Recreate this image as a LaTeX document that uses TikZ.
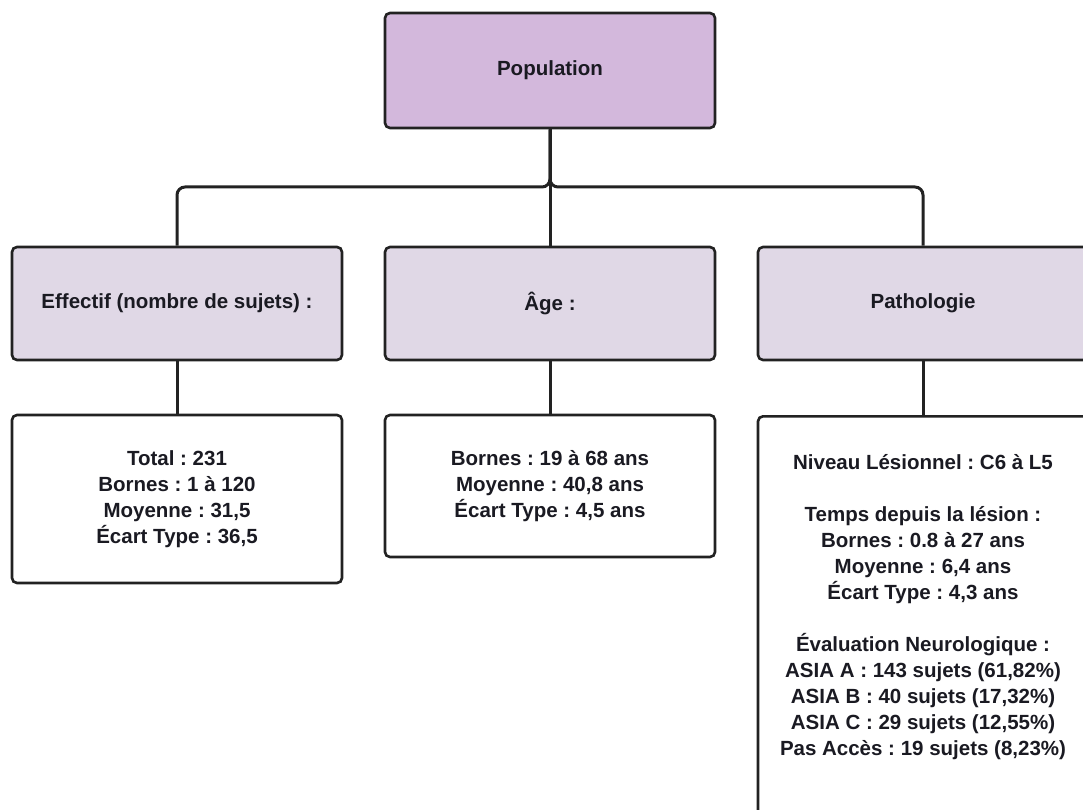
\documentclass[tikz,border=0pt]{standalone}
\usepackage{fontspec}
\setmainfont{Liberation Sans}
\definecolor{linec}{HTML}{222222}
\definecolor{txtc}{HTML}{1A1A22}
\definecolor{popc}{HTML}{D3B8DC}
\definecolor{catc}{HTML}{E0D8E6}
\frenchspacing
\begin{document}
\begin{tikzpicture}[x=1pt,y=-1pt,
  box/.style={draw=linec, line width=2.6pt, rounded corners=5pt, inner sep=0pt, align=center,
    font=\bfseries\fontsize{20.5}{26}\selectfont, text=txtc},
  topbox/.style={box, fill=popc, minimum width=330pt, minimum height=115pt},
  catbox/.style={box, fill=catc, minimum width=330pt, minimum height=113pt},
  leafbox/.style={box, fill=white, minimum width=330pt},
  txt/.style={inner sep=0pt, align=center, font=\bfseries\fontsize{20.5}{26}\selectfont, text=txtc},
  link/.style={draw=linec, line width=3pt, rounded corners=8pt}]
\useasboundingbox (0,0) rectangle (1083,810);
\clip (0,0) rectangle (1083,810);
\fill[white] (0,0) rectangle (1083,810);

\node[topbox] (pop) at (550,70.5) {\frenchspacing Population};

\node[catbox] (eff) at (177,303.5) {\frenchspacing Effectif (nombre de sujets) :};
\node[catbox] (age) at (550,303.5) {Âge :};
\node[catbox] (path) at (923,303.5) {Pathologie};

\node[leafbox, minimum height=168pt] (effd) at (177,499) {\frenchspacing Total : 231\\Bornes : 1 à 120\\Moyenne : 31,5\\Écart Type : 36,5};
\node[leafbox, minimum height=142pt] (aged) at (550,486) {\frenchspacing Bornes : 19 à 68 ans\\Moyenne : 40,8 ans\\Écart Type : 4,5 ans};
\node[leafbox, minimum height=430pt, anchor=north] (pathd) at (923,415) {};
\node[txt, anchor=north] (pathdt) at (923,454) {\frenchspacing Niveau Lésionnel : C6 à L5\\[26pt]Temps depuis la lésion :\\Bornes : 0.8 à 27 ans\\Moyenne : 6,4 ans\\Écart Type : 4,3 ans\\[26pt]Évaluation Neurologique :\\ASIA A : 143 sujets (61,82\%)\\ASIA B : 40 sujets (17,32\%)\\ASIA C : 29 sujets (12,55\%)\\Pas Accès : 19 sujets (8,23\%)};

\coordinate (bus) at (550,187);
\draw[link] (pop.south) -- (bus) -| (eff.north);
\draw[link] (pop.south) -- (bus) -| (path.north);
\draw[link] (pop.south) -- (age.north);

\draw[link] (eff.south) -- (effd.north);
\draw[link] (age.south) -- (aged.north);
\draw[link] (path.south) -- (pathd.north);
\end{tikzpicture}
\end{document}
